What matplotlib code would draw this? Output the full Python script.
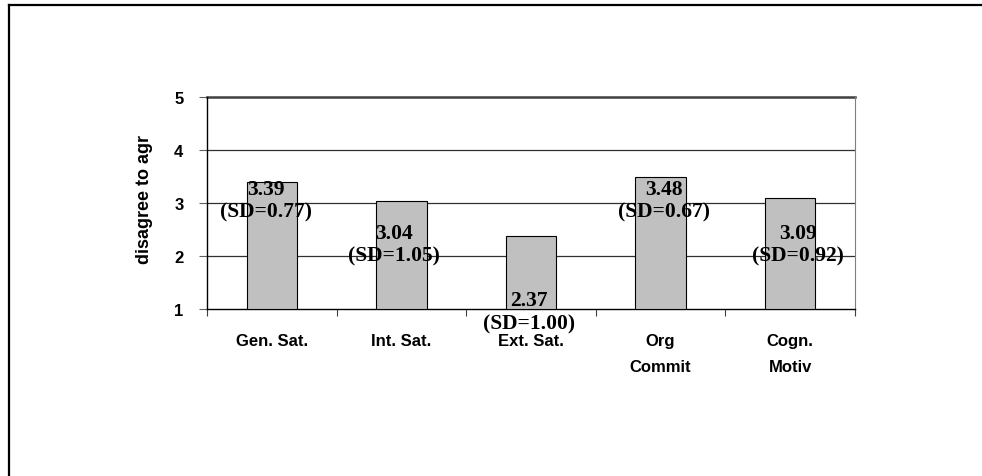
import matplotlib
matplotlib.use("Agg")
import numpy as np
from matplotlib import pyplot as plt
from matplotlib.lines import Line2D

categories = ["Gen. Sat.", "Int. Sat.", "Ext. Sat.", "Org\nCommit", "Cogn.\nMotiv"]
means = [3.39, 3.04, 2.37, 3.48, 3.09]
sds = [0.77, 1.05, 1.00, 0.67, 0.92]

# where each two-line value label sits (centre of the block, data units)
label_y = [3.055, 2.226, 0.95, 3.055, 2.226]
label_dx = [-0.045, -0.06, -0.015, 0.025, 0.06]

W, H = 982, 477
fig = plt.figure(figsize=(W / 100, H / 100), dpi=100)
fig.set_facecolor('white')

# outer frame (left and top edges only are visible)
fig.add_artist(Line2D([8.5/W, 8.5/W], [0, 1 - 5.5/H], transform=fig.transFigure,
                      color='black', lw=1.6))
fig.add_artist(Line2D([8.5/W, 1], [1 - 5.5/H, 1 - 5.5/H], transform=fig.transFigure,
                      color='black', lw=1.6))

ax = fig.add_axes([207/W, 1 - 310/H, 648/W, (310 - 97.7)/H])
x = np.arange(len(categories))
ax.bar(x, np.array(means) - 1, bottom=1, width=0.39, color='#c0c0c0',
       edgecolor='black', linewidth=0.8, zorder=3)

ax.set_xlim(-0.5, len(categories) - 0.5)
ax.set_ylim(1, 5)
ax.set_yticks([1, 2, 3, 4, 5])
for yv in [2, 3, 4]:
    ax.axhline(yv, color='#303030', lw=0.9, zorder=1)
ax.axhline(5, color='#404040', lw=1.8, zorder=1, clip_on=False)

ax.spines['top'].set_visible(False)
ax.spines['right'].set_color('#808080')
ax.spines['right'].set_linewidth(0.8)
ax.spines['left'].set_linewidth(1.0)
ax.spines['bottom'].set_linewidth(1.0)

# ticks sit on the category boundaries
ax.set_xticks(list(x - 0.5) + [len(categories) - 0.5])
ax.set_xticklabels([])
ax.tick_params(axis='x', direction='out', length=5, width=0.8, color='#404040')
ax.tick_params(axis='y', direction='out', length=6, width=0.8, color='#606060', pad=11)
for lab in ax.get_yticklabels():
    lab.set_fontfamily('Liberation Sans')
    lab.set_fontweight('bold')
    lab.set_fontsize(12)

# category names under the bars
ytxt = 1 - 24.5 / 53.1
for xi, name in zip(x, categories):
    ax.text(xi, ytxt, name, ha='center', va='top', fontsize=12, fontweight='bold',
            family='Liberation Sans', linespacing=1.9, clip_on=False)

ax.set_ylabel('disagree to agr', fontsize=13, fontweight='bold',
              family='Liberation Sans')
ax.yaxis.set_label_coords((153 - 207) / 648, 0.52)

for xi, m, s, ly, dx in zip(x, means, sds, label_y, label_dx):
    ax.text(xi + dx, ly, f"{m:.2f}\n(SD={s:.2f})", ha='center', va='center',
            fontsize=15.5, fontweight='bold', family='Liberation Serif',
            linespacing=1.18, zorder=5, clip_on=False)

fig.savefig('out.png', dpi=100, facecolor='white')
